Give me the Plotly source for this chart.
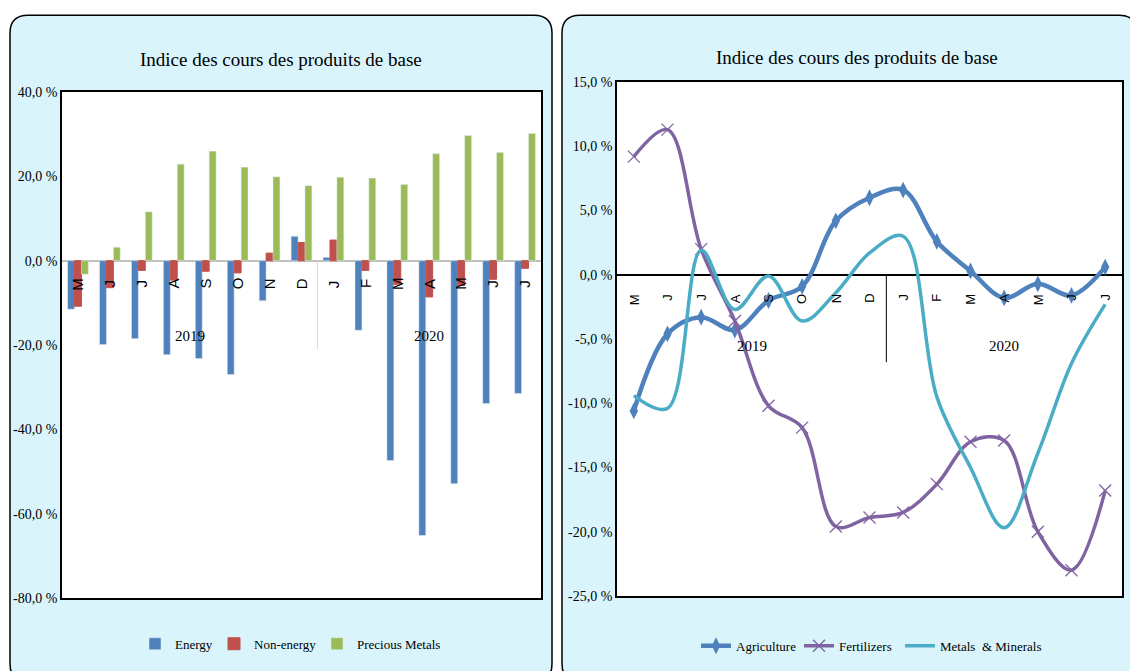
import numpy as np
import plotly.graph_objects as go

W, H = 1138, 671
OX = 8                  # horizontal page offset
OY, SY = 13.7, 0.98     # vertical page offset / scale measured on the rendered page

# ---------------- data ----------------
months = ["M", "J", "J", "A", "S", "O", "N", "D", "J", "F", "M", "A", "M", "J", "J"]
years = ["2019", "2020"]
year_counts = [8, 7]

energy = [-11.5, -19.9, -18.5, -22.3, -23.2, -27.0, -9.5, 5.8, 0.8, -16.5, -47.4, -65.2, -52.9, -33.9, -31.5]
non_energy = [-10.8, -6.4, -2.3, -4.6, -2.5, -2.9, 1.8, 4.3, 4.9, -2.3, -5.6, -8.6, -5.9, -4.4, -1.8]
precious = [-3.2, 3.2, 11.6, 22.9, 26.0, 22.2, 19.9, 17.8, 19.8, 19.6, 18.1, 25.4, 29.7, 25.7, 30.2]

agriculture = [-10.6, -4.6, -3.3, -4.3, -2.0, -0.9, 4.2, 6.0, 6.6, 2.6, 0.3, -1.8, -0.7, -1.6, 0.6]
fertilizers = [9.2, 11.3, 2.0, -3.6, -10.2, -11.9, -19.6, -18.9, -18.5, -16.3, -13.0, -12.9, -20.0, -23.0, -16.8]
metals = [-9.4, -10.4, 1.9, -2.7, -0.1, -3.6, -1.4, 1.7, 3.0, -9.5, -15.0, -19.7, -13.9, -6.9, -2.3]

left_ticks = [-80, -60, -40, -20, 0, 20, 40]
right_ticks = [-25, -20, -15, -10, -5, 0, 5, 10, 15]
title_text = "Indice des cours des produits de base"

# ---------------- helpers ----------------
def px(xp):
    return (xp - OX) / W

def py(yp):
    return 1 - ((yp - OY) / SY) / H

def fmt(v):
    return f"{v:.1f}".replace(".", ",") + " %"

def rounded_path(x0, y0, x1, y1, r):
    pts = [
        ("M", [(x0 + r, y0)]), ("L", [(x1 - r, y0)]), ("Q", [(x1, y0), (x1, y0 + r)]),
        ("L", [(x1, y1 - r)]), ("Q", [(x1, y1), (x1 - r, y1)]), ("L", [(x0 + r, y1)]),
        ("Q", [(x0, y1), (x0, y1 - r)]), ("L", [(x0, y0 + r)]), ("Q", [(x0, y0), (x0 + r, y0)]),
    ]
    s = ""
    for cmd, coords in pts:
        s += cmd + " " + " ".join(f"{px(a):.5f},{py(b):.5f}" for a, b in coords) + " "
    return s + "Z"

SERIF = "Liberation Serif"
SANS = "Liberation Sans"
PANEL = "#D9F5FB"

x = np.arange(len(months))

fig = go.Figure()

# ---------------- left: bars ----------------
fig.add_trace(go.Bar(x=x, y=energy, name="Energy", marker=dict(color="#4F81BD"),
                     xaxis="x", yaxis="y", legend="legend", legendwidth=34))
fig.add_trace(go.Bar(x=x, y=non_energy, name="Non-energy",
                     marker=dict(color="#C0504D", line=dict(color="#C0504D", width=1)),
                     xaxis="x", yaxis="y", legend="legend", legendwidth=58))
fig.add_trace(go.Bar(x=x, y=precious, name="Precious Metals", marker=dict(color="#9BBB59"),
                     xaxis="x", yaxis="y", legend="legend"))

# ---------------- right: lines ----------------
fig.add_trace(go.Scatter(x=x, y=agriculture, name="Agriculture", mode="lines+markers",
                         line=dict(color="#4F81BD", width=4.5, shape="spline", smoothing=1),
                         marker=dict(symbol="diamond-tall", size=12, color="#4F81BD"),
                         xaxis="x2", yaxis="y2", legend="legend2", legendwidth=58))
fig.add_trace(go.Scatter(x=x, y=fertilizers, name="Fertilizers", mode="lines+markers",
                         line=dict(color="#8064A2", width=3.5, shape="spline", smoothing=1),
                         marker=dict(symbol="x-thin", size=12, color="#8064A2",
                                     line=dict(color="#8064A2", width=1.3)),
                         xaxis="x2", yaxis="y2", legend="legend2", legendwidth=56))
fig.add_trace(go.Scatter(x=x, y=metals, name="Metals  & Minerals", mode="lines",
                         line=dict(color="#4BACC6", width=3.5, shape="spline", smoothing=1),
                         xaxis="x2", yaxis="y2", legend="legend2"))

# ---------------- shapes ----------------
shapes = [
    dict(type="path", xref="paper", yref="paper", layer="below",
         path=rounded_path(10, 14, 552, 682, 18), fillcolor=PANEL,
         line=dict(color="black", width=1.5)),
    dict(type="path", xref="paper", yref="paper", layer="below",
         path=rounded_path(562, 14, 1137, 682, 18), fillcolor=PANEL,
         line=dict(color="black", width=1.5)),
    dict(type="rect", xref="paper", yref="paper", layer="below",
         x0=px(62), x1=px(541), y0=py(598), y1=py(91), fillcolor="white", line=dict(width=0)),
    dict(type="rect", xref="paper", yref="paper", layer="below",
         x0=px(617), x1=px(1122), y0=py(596), y1=py(81), fillcolor="white", line=dict(width=0)),
]
sep = year_counts[0] - 0.5
shapes.append(dict(type="line", xref="x", yref="y", x0=sep, x1=sep, y0=0, y1=-21,
                   line=dict(color="#D9D9D9", width=1)))
shapes.append(dict(type="line", xref="x2", yref="y2", x0=sep, x1=sep, y0=0, y1=-6.8,
                   line=dict(color="black", width=1)))

# ---------------- annotations ----------------
ann = [
    dict(text=title_text, xref="paper", yref="paper", x=px(281), y=py(58), showarrow=False,
         xanchor="center", yanchor="middle", font=dict(family=SERIF, size=19, color="black")),
    dict(text=title_text, xref="paper", yref="paper", x=px(857), y=py(56), showarrow=False,
         xanchor="center", yanchor="middle", font=dict(family=SERIF, size=19, color="black")),
]
for i, m in enumerate(months):
    ann.append(dict(text=m, x=i, y=0, xref="x", yref="y", showarrow=False, textangle=-90,
                    xanchor="center", yanchor="middle", yshift=-23,
                    font=dict(family=SANS, size=15, color="black")))
    ann.append(dict(text=m, x=i, y=0, xref="x2", yref="y2", showarrow=False, textangle=-90,
                    xanchor="center", yanchor="top", yshift=-17,
                    font=dict(family=SANS, size=13, color="black")))
start = 0
for yr, cnt in zip(years, year_counts):
    mid = start + (cnt - 1) / 2
    ann.append(dict(text=yr, x=mid, y=0, xref="x", yref="y", showarrow=False,
                    yanchor="middle", yshift=-75, font=dict(family=SERIF, size=15, color="black")))
    ann.append(dict(text=yr, x=mid, y=0, xref="x2", yref="y2", showarrow=False,
                    yanchor="middle", yshift=-71, font=dict(family=SERIF, size=15, color="black")))
    start += cnt

axis_common = dict(showgrid=False, showline=True, mirror=True, linecolor="black", linewidth=1.5,
                   ticks="", fixedrange=True)

fig.update_layout(
    width=W, height=H,
    margin=dict(l=0, r=0, t=0, b=0),
    paper_bgcolor="white", plot_bgcolor="white",
    barmode="group", bargap=0.35, bargroupgap=0,
    shapes=shapes, annotations=ann,
    xaxis=dict(domain=[px(62), px(541)], range=[-0.5, 14.5], showticklabels=False,
               zeroline=False, anchor="y", **axis_common),
    yaxis=dict(domain=[py(598), py(91)], range=[-80, 40], tickvals=left_ticks,
               ticktext=[fmt(v) for v in left_ticks], zeroline=True, zerolinecolor="#BFBFBF",
               zerolinewidth=2, anchor="x", tickfont=dict(family=SERIF, size=14, color="black"),
               **axis_common),
    xaxis2=dict(domain=[px(617), px(1122)], range=[-0.5, 14.5], showticklabels=False,
                zeroline=False, anchor="y2", **axis_common),
    yaxis2=dict(domain=[py(596), py(81)], range=[-25, 15], tickvals=right_ticks,
                ticktext=[fmt(v) for v in right_ticks], zeroline=True, zerolinecolor="black",
                zerolinewidth=1.5, anchor="x2", tickfont=dict(family=SERIF, size=14, color="black"),
                **axis_common),
    legend=dict(orientation="h", xref="paper", yref="paper", x=px(135), y=py(644),
                xanchor="left", yanchor="middle", bgcolor="rgba(0,0,0,0)",
                font=dict(family=SERIF, size=13, color="black"), itemclick=False),
    legend2=dict(orientation="h", xref="paper", yref="paper", x=px(696), y=py(646),
                 xanchor="left", yanchor="middle", bgcolor="rgba(0,0,0,0)",
                 font=dict(family=SERIF, size=13, color="black"), itemclick=False),
    showlegend=True,
)

fig.write_html("out.html")
